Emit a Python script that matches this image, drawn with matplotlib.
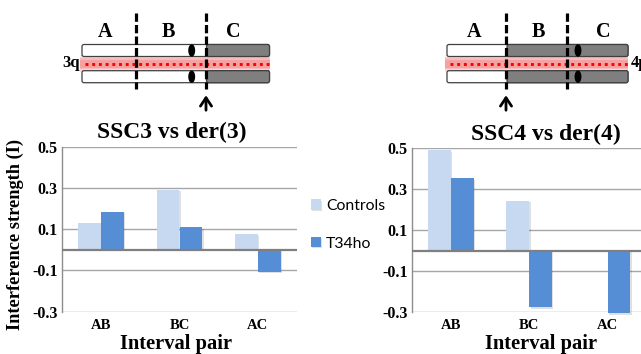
import matplotlib
matplotlib.use("Agg")
import matplotlib.pyplot as plt
import matplotlib.patheffects as pe
from matplotlib.patches import FancyBboxPatch, Rectangle, Ellipse
import numpy as np

# ---------------- data ----------------
categories = ["AB", "BC", "AC"]
series_names = ["Controls", "T34ho"]
ssc3_controls = [0.13, 0.29, 0.075]
ssc3_t34ho = [0.185, 0.11, -0.108]
ssc4_controls = [0.49, 0.245, 0.006]
ssc4_t34ho = [0.353, -0.276, -0.305]
yticks = [-0.3, -0.1, 0.1, 0.3, 0.5]
ytick_labels = ["-0.3", "-0.1", "0.1", "0.3", "0.5"]
titles = ["SSC3 vs der(3)", "SSC4 vs der(4)"]
ylabel = "Interference strength (I)"
xlabel = "Interval pair"

c_light = "#C6D9F1"
c_dark = "#558ED5"
SERIF = ["Liberation Serif", "DejaVu Serif"]

W, H = 641, 354
fig = plt.figure(figsize=(W / 100, H / 100), dpi=100)


def px_axes(x0, y_top, x1, y_bot):
    return [x0 / W, (H - y_bot) / H, (x1 - x0) / W, (y_bot - y_top) / H]


def draw_chart(ax, ctrl, t34, title, title_x, xlab_x, x0, x1):
    x = np.arange(len(categories))
    bw = 0.29
    shadow = [pe.SimplePatchShadow(offset=(1.0, -1.0), shadow_rgbFace="#000000", alpha=0.12), pe.Normal()]
    b1 = ax.bar(x - bw / 2, ctrl, bw, color=c_light, zorder=3, clip_on=False, path_effects=shadow)
    b2 = ax.bar(x + bw / 2, t34, bw, color=c_dark, zorder=3, clip_on=False, path_effects=shadow)
    ax.set_xlim(-0.5, 2.5)
    ax.set_ylim(-0.3, 0.5)
    for yv in yticks:
        ax.axhline(yv, color="#A6A6A6", lw=1.0, zorder=1)
    ax.axhline(0, color="#7F7F7F", lw=1.6, zorder=4)
    ax.set_yticks(yticks)
    ax.set_yticklabels(ytick_labels, fontfamily=SERIF, fontweight="bold", fontsize=11.5)
    ax.set_xticks(x)
    ax.set_xticklabels(categories, fontfamily=SERIF, fontweight="bold", fontsize=10.5)
    ax.tick_params(axis="both", length=0, pad=3)
    ax.tick_params(axis="x", pad=5)
    for s in ["top", "right", "bottom"]:
        ax.spines[s].set_visible(False)
    ax.spines["left"].set_color("#8C8C8C")
    ax.spines["left"].set_linewidth(1.0)
    ax.patch.set_alpha(0)
    fx = lambda px: (px - x0) / (x1 - x0)
    ax.set_title(title, fontfamily=SERIF, fontweight="bold", fontsize=17, x=fx(title_x), y=1.0, pad=6)
    ax.set_xlabel(xlabel, fontfamily=SERIF, fontweight="bold", fontsize=14.8, labelpad=0)
    ax.xaxis.set_label_coords(fx(xlab_x), -0.135, transform=ax.transAxes)
    ax.xaxis.label.set_va("top")
    return b1, b2


ax1 = fig.add_axes(px_axes(62, 146.7, 297, 311.7))
b1, b2 = draw_chart(ax1, ssc3_controls, ssc3_t34ho, titles[0], 171.5, 176, 62, 297)
ax1.set_ylabel(ylabel, fontfamily=SERIF, fontweight="bold", fontsize=13.2)
ax1.yaxis.set_label_coords((24 - 62) / 235, (311.7 - 235) / 165.0)

ax2 = fig.add_axes(px_axes(411.7, 148.3, 646.7, 312.3))
draw_chart(ax2, ssc4_controls, ssc4_t34ho, titles[1], 546, 541.5, 411.7, 646.7)

leg = fig.legend([b1, b2], series_names, loc="upper left",
                 bbox_to_anchor=(311 / W, (H - 199) / H), frameon=False,
                 prop={"family": ["Lato", "DejaVu Sans"], "size": 11.3},
                 handlelength=0.62, handleheight=0.62, handletextpad=0.35,
                 labelspacing=1.5, borderpad=0, borderaxespad=0)

# ---------------- chromosome diagrams ----------------
axd = fig.add_axes([0, 0, 1, 1], zorder=0)
axd.set_xlim(0, W)
axd.set_ylim(H, 0)
axd.axis("off")
axd.patch.set_alpha(0)


def diagram(x0, x1, gray_start, dashes, arrow_x, oval_x, labels_x, chrom, chrom_x, chrom_ha):
    # red blurred band
    for h, a in [(17, 0.12), (14, 0.16), (11, 0.2), (8, 0.25)]:
        axd.add_patch(Rectangle((x0 - 2, 63.5 - h / 2), x1 - x0 + 2, h, color="#F05A5A", alpha=a, lw=0, zorder=1))
    axd.plot([x0 + 3, x1], [63.5, 63.5], color="#FF0000", lw=2.1, ls=(0, (1, 1.3)), zorder=2,
             solid_capstyle="butt", dash_capstyle="butt")
    for yt in (44.5, 70.7):
        hgt = 12
        axd.add_patch(FancyBboxPatch((x0, yt), x1 - x0, hgt, boxstyle="round,pad=0,rounding_size=2",
                                     fc="white", ec="#404040", lw=0.9, zorder=3))
        axd.add_patch(FancyBboxPatch((gray_start, yt), x1 - gray_start, hgt,
                                     boxstyle="round,pad=0,rounding_size=2",
                                     fc="#7F7F7F", ec="#404040", lw=0.9, zorder=3))
        axd.add_patch(Ellipse((oval_x, yt + 6), 5.5, 11, color="black", zorder=4))
    for dx in dashes:
        axd.plot([dx, dx], [12.5, 88.5], color="black", lw=2.3, ls=(0, (2.6, 1.0)), zorder=5)
    axd.annotate("", xy=(arrow_x, 92.5), xytext=(arrow_x, 113),
                 arrowprops=dict(arrowstyle="->,head_length=0.6,head_width=0.4", lw=2.0, color="black"))
    for lab, lx in zip(["A", "B", "C"], labels_x):
        axd.text(lx, 32, lab, ha="center", va="center", fontfamily=SERIF, fontweight="bold", fontsize=14.5)
    axd.text(chrom_x, 63, chrom, ha=chrom_ha, va="center", fontfamily=SERIF, fontweight="bold", fontsize=12)


diagram(82, 269.5, 206.5, [136, 206], 206, 191.7, [105, 168, 233], "3q", 80, "right")
diagram(447, 628, 507, [506, 566.7], 506, 578, [474, 538, 603], "4p", 631, "left")

fig.savefig("out.png", dpi=100)
